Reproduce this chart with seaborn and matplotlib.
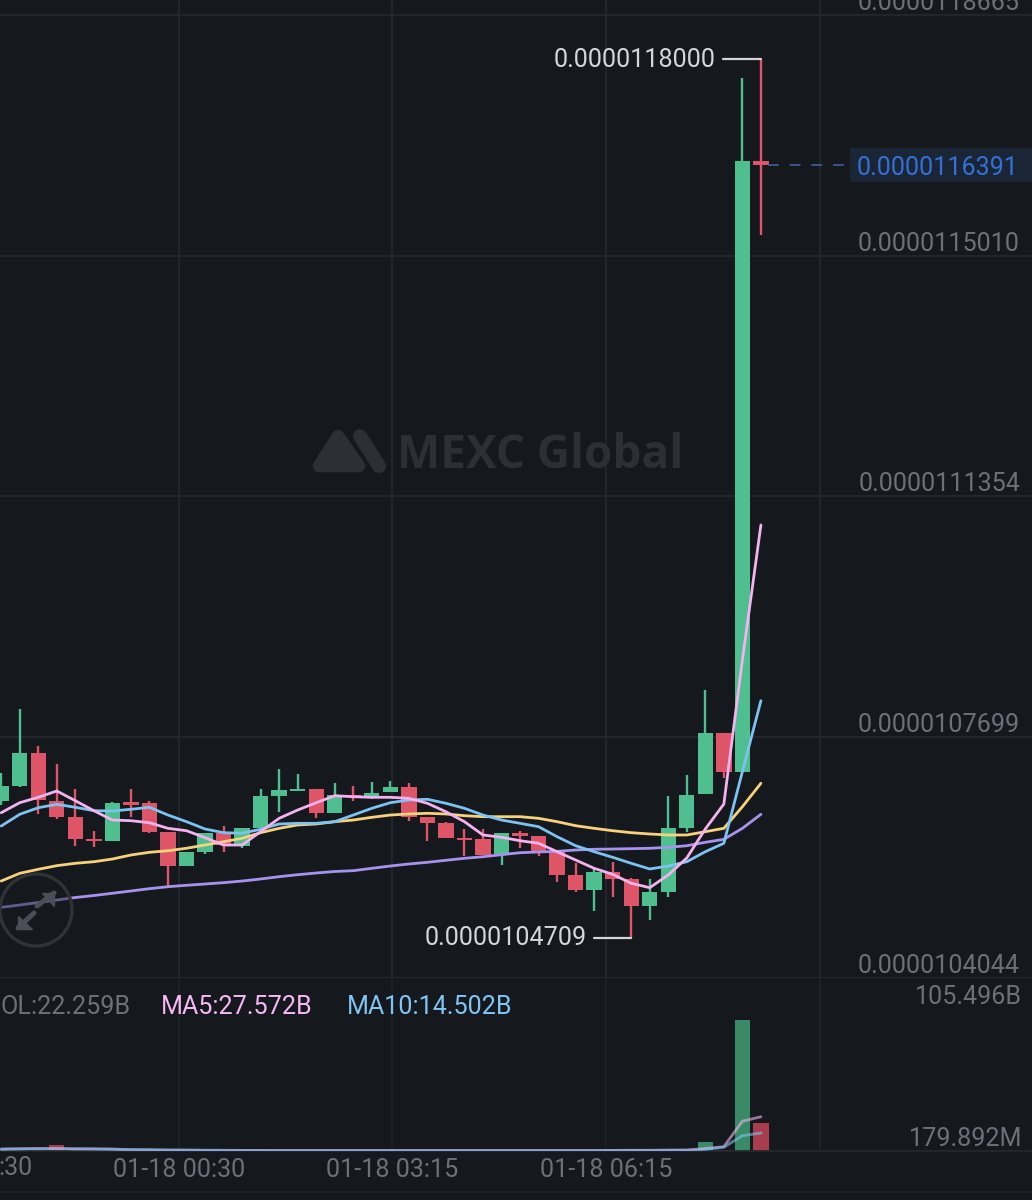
import matplotlib
matplotlib.use("Agg")
import numpy as np
import pandas as pd
import seaborn as sns
from matplotlib import pyplot as plt
from matplotlib.lines import Line2D
from matplotlib.patches import Circle, Polygon, Rectangle

# prices are in units of 1e-10
opens = [106731, 106963, 107464, 106735, 106483, 106154, 106128, 106711, 106696, 106265,
         105744, 105961, 106245, 106052, 106316, 106811, 106878, 106908, 106553, 106822,
         106796, 106863, 106948, 106483, 106401, 106174, 106154, 105922, 106250, 106204,
         105961, 105603, 105380, 105658, 105551, 105142, 105354, 106316, 106833, 107759,
         107167, 116451]
highs = [107160, 108123, 107570, 107293, 106908, 106280, 106716, 106908, 106731, 106265,
         105961, 106241, 106356, 106326, 106908, 107212, 107141, 106908, 107009, 106959,
         107015, 107030, 107009, 106483, 106412, 106306, 106306, 106250, 106275, 106204,
         105961, 105785, 105699, 105809, 105567, 105547, 106811, 107126, 108416, 107759,
         117711, 118000]
lows = [106670, 106948, 106529, 106453, 106048, 106037, 106120, 106493, 106250, 105441,
        105744, 105926, 105961, 106022, 106316, 106564, 106878, 106473, 106553, 106731,
        106757, 106863, 106427, 106124, 106174, 105901, 105911, 105759, 106022, 105901,
        105497, 105345, 105066, 105278, 104656, 104924, 105278, 106265, 106833, 107075,
        107167, 115318]
closes = [106963, 107464, 106746, 106483, 106154, 106128, 106705, 106675, 106265, 105744,
          105961, 106241, 106063, 106316, 106807, 106902, 106908, 106553, 106822, 106787,
          106857, 106948, 106483, 106401, 106174, 106139, 105911, 106241, 106204, 105961,
          105608, 105380, 105658, 105551, 105142, 105349, 106316, 106822, 107759, 107167,
          116451, 116385]

ma5 = [106553, 106705, 106787, 106883, 106735, 106584, 106442, 106432, 106401, 106316,
       106280, 106174, 106063, 106063, 106265, 106468, 106594, 106705, 106811, 106796,
       106787, 106787, 106772, 106696, 106568, 106417, 106215, 106180, 106128, 106089,
       105961, 105835, 105709, 105618, 105482, 105415, 105608, 105866, 106306, 106685,
       108871, 110921]
ma10 = [106351, 106529, 106629, 106681, 106635, 106584, 106579, 106605, 106635, 106518,
        106417, 106306, 106250, 106241, 106301, 106382, 106392, 106392, 106417, 106518,
        106620, 106705, 106746, 106757, 106696, 106620, 106518, 106442, 106392, 106341,
        106189, 106052, 105961, 105876, 105785, 105699, 105744, 105809, 105961, 106089,
        107176, 108253]
ma30 = [105516, 105633, 105694, 105749, 105785, 105809, 105850, 105911, 105952, 105976,
        106013, 106063, 106113, 106165, 106250, 106316, 106367, 106382, 106417, 106442,
        106483, 106518, 106534, 106544, 106534, 106508, 106493, 106493, 106493, 106468,
        106417, 106356, 106316, 106280, 106250, 106230, 106215, 106215, 106265, 106316,
        106644, 107000]
ma60 = [105117, 105152, 105190, 105228, 105266, 105296, 105330, 105365, 105400, 105430,
        105451, 105471, 105491, 105516, 105547, 105582, 105612, 105638, 105661, 105673,
        105709, 105744, 105775, 105800, 105831, 105861, 105885, 105916, 105946, 105957,
        105967, 105987, 105998, 106002, 106007, 106013, 106028, 106052, 106104, 106149,
        106316, 106529]

# volume in billions
volumes = [0.5, 0.8, 1.2, 5.0, 1.5, 0.5, 0.6, 0.4, 0.5, 0.4,
           0.3, 0.3, 0.3, 0.3, 0.4, 0.4, 0.3, 0.3, 0.3, 0.3,
           0.3, 0.3, 0.4, 0.3, 0.3, 0.3, 0.3, 0.3, 0.3, 0.3,
           0.4, 0.3, 0.3, 1.2, 0.8, 0.3, 0.6, 0.8, 7.5, 0.9,
           105.496, 22.259]
vol_ma5 = [1.4, 1.8, 2.0, 2.0, 1.8, 1.8, 1.6, 0.8, 0.7, 0.5,
           0.5, 0.4, 0.4, 0.4, 0.4, 0.4, 0.4, 0.4, 0.4, 0.4,
           0.4, 0.4, 0.4, 0.4, 0.4, 0.4, 0.4, 0.4, 0.4, 0.4,
           0.4, 0.4, 0.4, 0.5, 0.6, 0.6, 0.7, 0.8, 2.0, 3.5,
           24.0, 27.572]
vol_ma10 = [1.6, 1.7, 1.8, 1.8, 1.7, 1.5, 1.4, 1.3, 1.2, 1.0,
            0.9, 0.7, 0.6, 0.5, 0.5, 0.4, 0.4, 0.4, 0.4, 0.4,
            0.4, 0.4, 0.4, 0.4, 0.4, 0.4, 0.4, 0.4, 0.4, 0.4,
            0.4, 0.4, 0.4, 0.4, 0.5, 0.5, 0.6, 0.6, 1.3, 3.0,
            12.3, 14.502]

price_ticks = [104044, 107699, 111354, 115010, 118665]
price_labels = ["0.0000104044", "0.0000107699", "0.0000111354", "0.0000115010", "0.0000118665"]
time_ticks = [9.595, 21.09, 32.64, 44.19]
time_labels = ["01-18 00:30", "01-18 03:15", "01-18 06:15", ""]

BG = "#15181d"
GRID = "#24272c"
GREEN = "#4fbf8f"
RED = "#df5568"
MUTED = "#6d7076"
W, H = 1032, 1200
FONT = 18.1


def fx(x: float) -> float:
    return x / W


def fy(y: float) -> float:
    return 1 - y / H


def draw_candles(ax):
    """
    Draw wicks and bodies of the candles
    :param ax: price axes
    :return: None
    """
    df = pd.DataFrame({"o": opens, "h": highs, "l": lows, "c": closes})
    df["color"] = np.where(df["c"] >= df["o"], GREEN, RED)
    ax.vlines(df.index, df["l"], df["h"], colors=df["color"], lw=1.7, zorder=2)
    ax.bar(df.index, (df["c"] - df["o"]).abs(), bottom=df[["o", "c"]].min(axis=1),
           width=0.83, color=df["color"], linewidth=0, zorder=2)


def draw_lines(ax):
    """
    Moving averages over the candles
    :param ax: price axes
    :return: None
    """
    idx = range(len(ma5))
    for values, color in [(ma60, "#a793ee"), (ma30, "#f6d27a"),
                          (ma10, "#7cc3f2"), (ma5, "#f4b2f0")]:
        sns.lineplot(x=idx, y=values, color=color, lw=2.0, estimator=None, ax=ax, zorder=3)


def draw_marks(fig, ax):
    """
    High / low / last price labels
    :param fig: the figure
    :param ax: price axes
    :return: None
    """
    top = highs.index(max(highs))
    low = lows.index(min(lows))
    white = "#d4d6da"
    ax.plot([top - 2.05, top], [max(highs)] * 2, color=white, lw=1.6, zorder=4)
    ax.plot([low - 2.0, low], [min(lows)] * 2, color=white, lw=1.6, zorder=4)
    fig.text(fx(716), fy(60), "0.0000118000", color=white, fontsize=FONT, ha="right", va="center")
    fig.text(fx(587), fy(938), "0.0000104709", color=white, fontsize=FONT, ha="right", va="center")

    last = closes[-1]
    ax.plot([len(closes) - 1 + 0.38, 45.54], [last, last], color="#3b5a94", lw=1.3,
            dashes=(6, 6), zorder=4)
    fig.add_artist(Rectangle((fx(850), fy(182)), fx(182), 34 / H, transform=fig.transFigure,
                             facecolor="#1a2636", linewidth=0))
    fig.text(fx(1019), fy(168), "0.0000116391", color="#3470d6", fontsize=FONT, ha="right", va="center")


def draw_watermark(fig):
    """
    Faint logo and expand button
    :param fig: the figure
    :return: None
    """
    mark = "#2c2f34"
    fig.text(fx(397), fy(456), "MEXC Global", color=mark, fontsize=33, fontweight="bold",
             family=["Open Sans", "DejaVu Sans"], ha="left", va="center", zorder=1)
    tri = [(fx(338), fy(436)), (fx(319), fy(466)), (fx(359), fy(466))]
    fig.add_artist(Polygon(tri, closed=True, transform=fig.transFigure, facecolor=mark,
                           edgecolor=mark, lw=9, joinstyle="round", zorder=1))
    fig.add_artist(Line2D([fx(360), fx(379)], [fy(436), fy(466)], transform=fig.transFigure,
                          color=mark, lw=10, solid_capstyle="round", zorder=1))

    # expand button sits over the lines and dims them
    px = fig.dpi_scale_trans
    cx, cy = 36 / fig.dpi, (H - 910) / fig.dpi
    fig.add_artist(Circle((cx, cy), 36 / fig.dpi, transform=px, facecolor=BG, alpha=0.45,
                          linewidth=0, zorder=5))
    fig.add_artist(Circle((cx, cy), 36 / fig.dpi, transform=px, facecolor="none",
                          edgecolor="#2f3237", lw=2.4, zorder=6))
    arrow = "#4b4e56"
    for start, end in [((37, 906), (54, 893)), ((34, 913), (18, 928))]:
        fig.add_artist(Line2D([fx(start[0]), fx(end[0])], [fy(start[1]), fy(end[1])],
                              transform=fig.transFigure, color=arrow, lw=3.6, zorder=6))
    fig.add_artist(Polygon([(fx(42), fy(893)), (fx(54), fy(893)), (fx(54), fy(906))],
                           transform=fig.transFigure, color=arrow, zorder=6))
    fig.add_artist(Polygon([(fx(18), fy(916)), (fx(18), fy(929)), (fx(32), fy(929))],
                           transform=fig.transFigure, color=arrow, zorder=6))


def plot_fig(fig_location: str = "out.png"):
    """
    Plot the candle chart with its volume panel
    :param fig_location: file name where the figure should be saved
    :return: None
    """
    sns.set_theme(style="dark", rc={"axes.facecolor": "none", "figure.facecolor": BG})
    plt.rcParams["font.family"] = ["Roboto", "DejaVu Sans"]

    fig = plt.figure(figsize=(W / 100, H / 100), dpi=100)
    ax = fig.add_axes([0, fy(978), 1, 978 / H])
    vol = fig.add_axes([0, fy(1151), 1, 173 / H])
    ax.patch.set_alpha(0)
    vol.patch.set_alpha(0)

    draw_watermark(fig)
    draw_candles(ax)
    draw_lines(ax)
    draw_marks(fig, ax)

    xlim = (-0.065, 55.63)
    ax.set_xlim(xlim)
    ax.set_ylim(104044, 118890)
    ax.set_xticks(time_ticks)
    ax.set_xticklabels([])
    ax.yaxis.tick_right()
    ax.set_yticks(price_ticks)
    ax.set_yticklabels(price_labels, ha="right", va="bottom")
    ax.tick_params(axis="y", length=0, pad=-8.6, labelsize=FONT, labelcolor=MUTED)
    ax.tick_params(axis="x", length=0)
    ax.grid(True, color=GRID, lw=1.3)
    ax.set_axisbelow(True)
    ax.set(xlabel=None, ylabel=None)
    for s in ax.spines.values():
        s.set_visible(False)

    # volume panel
    df = pd.DataFrame({"i": range(len(volumes)), "v": volumes,
                       "up": [c >= o for c, o in zip(closes, opens)]})
    sns.barplot(data=df, x="i", y="v", hue="up", palette={True: "#3a8a68", False: "#a83e4d"},
                native_scale=True, dodge=False, width=0.83, saturation=1, legend=False,
                linewidth=0, ax=vol, zorder=2)
    sns.lineplot(x=df["i"], y=vol_ma5, color="#f4b2f0", lw=2.0, alpha=0.6, estimator=None, ax=vol, zorder=3)
    sns.lineplot(x=df["i"], y=vol_ma10, color="#7cc3f2", lw=2.0, alpha=0.6, estimator=None, ax=vol, zorder=3)
    vol.set_xlim(xlim)
    vol.set_ylim(0, 139.3)
    vol.set_xticks(time_ticks)
    vol.set_xticklabels(time_labels)
    vol.set_yticks([])
    vol.tick_params(axis="x", length=0, pad=5, labelsize=FONT, labelcolor=MUTED)
    vol.grid(True, axis="x", color="#1f2227", lw=1.2)
    vol.set_axisbelow(True)
    vol.set(xlabel=None, ylabel=None)
    for side, s in vol.spines.items():
        s.set_visible(side == "bottom")
        s.set_color(GRID)

    fig.text(fx(33), fy(1168), ":30", color=MUTED, fontsize=FONT, ha="right", va="center")
    fig.text(fx(0), fy(1007), "OL:22.259B", color=MUTED, fontsize=FONT, va="center")
    fig.text(fx(161), fy(1007), "MA5:27.572B", color="#f7b8f5", fontsize=FONT, va="center")
    fig.text(fx(347), fy(1007), "MA10:14.502B", color="#7fc6f5", fontsize=FONT, va="center")
    fig.text(fx(1022), fy(997), "105.496B", color=MUTED, fontsize=FONT, ha="right", va="center")
    fig.text(fx(1022), fy(1139), "179.892M", color=MUTED, fontsize=FONT, ha="right", va="center")
    fig.add_artist(Line2D([0, 1], [fy(1192), fy(1192)], transform=fig.transFigure, color="#1f2227", lw=1.4))

    fig.savefig(fig_location, dpi=100, facecolor=BG)


if __name__ == '__main__':
    plot_fig("out.png")
